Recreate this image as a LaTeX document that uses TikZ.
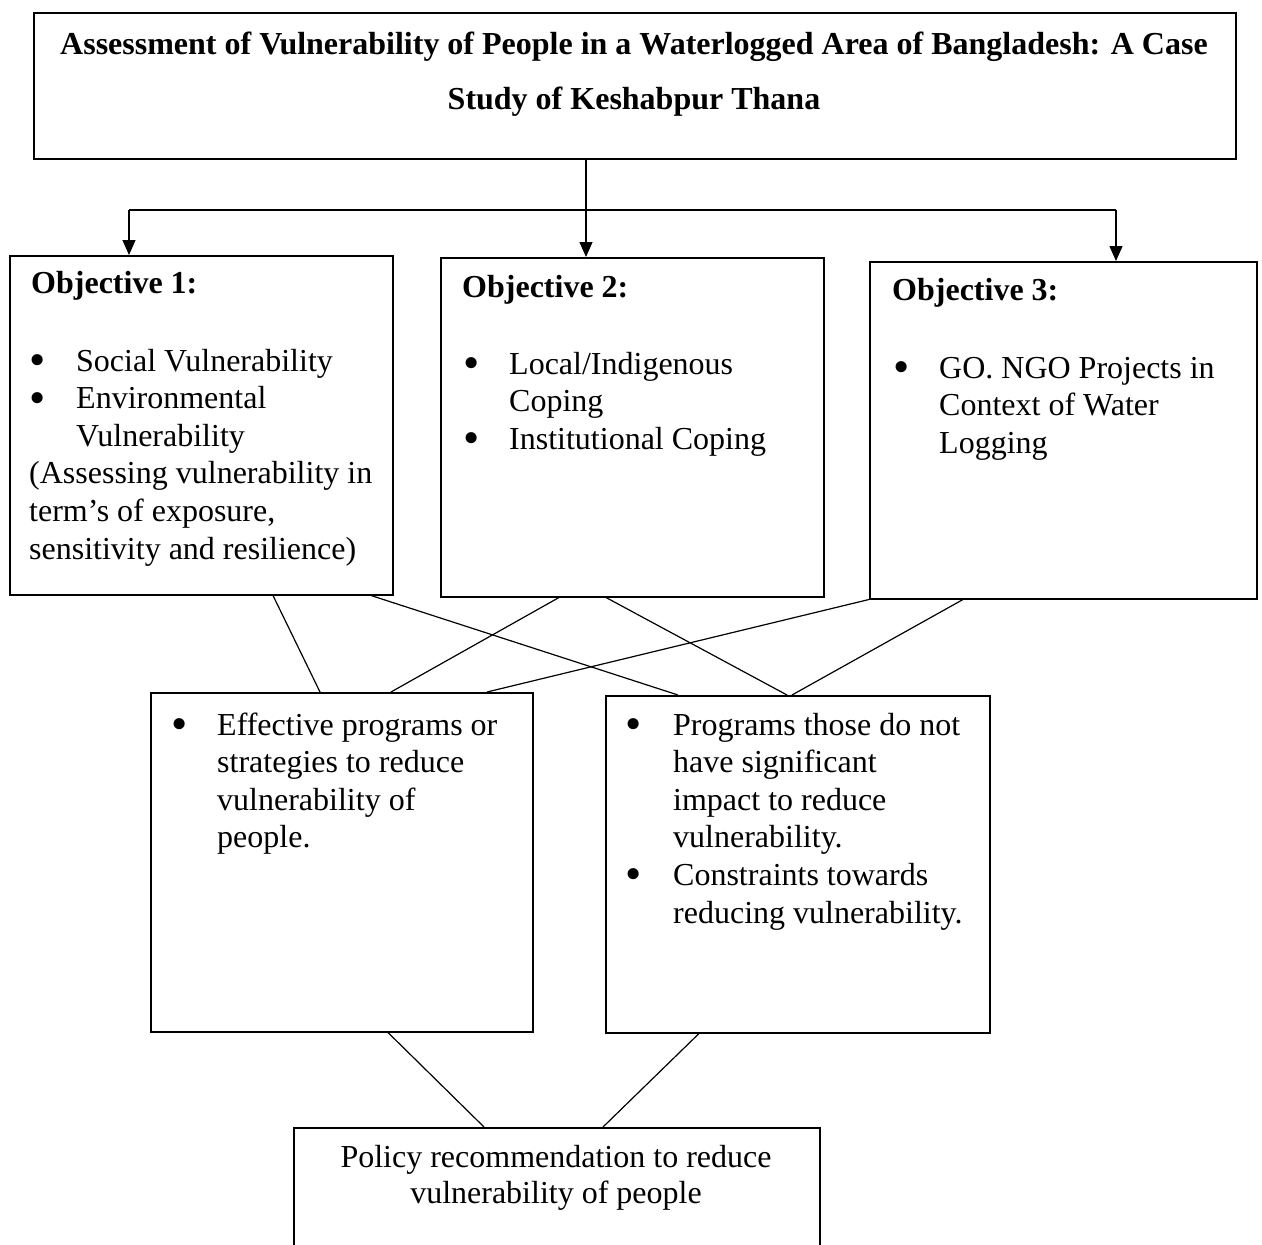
\documentclass[tikz,border=0pt]{standalone}
\usepackage{fontspec}
\setmainfont{Liberation Serif}
\usetikzlibrary{arrows.meta}
\newcommand{\bl}{\smash{\raisebox{-4.5pt}{\scalebox{1.45}{\textbullet}}}}
\tikzset{
  frame/.style={draw, line width=1.5pt, inner sep=0pt, anchor=north west},
  conn/.style={line width=1.2pt},
  arr/.style={line width=1.2pt, -{Triangle[width=13pt,length=15pt]}},
  txt/.style={inner sep=0pt, anchor=base west, font=\fontsize{32}{37.6}\selectfont},
  head/.style={inner sep=0pt, anchor=base west, font=\fontsize{32}{37.6}\selectfont\bfseries},
}
\begin{document}
\begin{tikzpicture}[x=1pt,y=-1pt]
\path[use as bounding box] (0,0) rectangle (1262,1245);
\clip (0,0) rectangle (1262,1245);
\fill[white] (0,0) rectangle (1262,1245);

% title
\node[frame, minimum width=1202pt, minimum height=146pt] (title) at (33,12) {};
\node[inner sep=0pt, anchor=base, font=\fontsize{32}{55}\selectfont\bfseries] (titlet) at (634,54)
  {\begin{tabular}[t]{@{}c@{}}Assessment of Vulnerability of People in a Waterlogged Area of Bangladesh: A Case\\ Study of Keshabpur Thana\end{tabular}};

% objective boxes
\node[frame, minimum width=383pt, minimum height=339pt] (o1) at (9,255) {};
\node[frame, minimum width=383pt, minimum height=339pt] (o2) at (440,257) {};
\node[frame, minimum width=387pt, minimum height=337pt] (o3) at (869,261) {};

\node[head] (o1h) at (31,293) {Objective 1:};
\node[txt] (o1t) at (29,371) {\begin{tabular}[t]{@{}p{47pt}@{}l@{}}
\bl & Social Vulnerability\\
\bl & Environmental\\
    & Vulnerability\\
\multicolumn{2}{@{}l@{}}{(Assessing vulnerability in}\\
\multicolumn{2}{@{}l@{}}{term’s of exposure,}\\
\multicolumn{2}{@{}l@{}}{sensitivity and resilience)}
\end{tabular}};

\node[head] (o2h) at (462,297) {Objective 2:};
\node[txt] (o2t) at (463,374) {\begin{tabular}[t]{@{}p{46pt}@{}l@{}}
\bl & Local/Indigenous\\
    & Coping\\
\bl & Institutional Coping
\end{tabular}};

\node[head] (o3h) at (892,300) {Objective 3:};
\node[txt] (o3t) at (893,378) {\begin{tabular}[t]{@{}p{46pt}@{}l@{}}
\bl & GO. NGO Projects in\\
    & Context of Water\\
    & Logging
\end{tabular}};

% outcome boxes
\node[frame, minimum width=382pt, minimum height=339pt] (ba) at (150,692) {};
\node[frame, minimum width=384pt, minimum height=337pt] (bb) at (605,695) {};

\node[txt] (bat) at (171,735) {\begin{tabular}[t]{@{}p{46pt}@{}l@{}}
\bl & Effective programs or\\
    & strategies to reduce\\
    & vulnerability of\\
    & people.
\end{tabular}};

\node[txt] (bbt) at (625,735) {\begin{tabular}[t]{@{}p{48pt}@{}l@{}}
\bl & Programs those do not\\
    & have significant\\
    & impact to reduce\\
    & vulnerability.\\
\bl & Constraints towards\\
    & reducing vulnerability.
\end{tabular}};

% policy box (cut by the lower edge)
\node[frame, minimum width=526pt, minimum height=200pt] (pol) at (293,1127) {};
\node[inner sep=0pt, anchor=base, font=\fontsize{32}{36}\selectfont] (polt) at (556,1167)
  {\begin{tabular}[t]{@{}c@{}}Policy recommendation to reduce\\ vulnerability of people\end{tabular}};

% top arrows
\coordinate (tm) at ([xshift=553pt]title.south west);
\coordinate (jl) at (129,210);
\coordinate (jr) at (1116,210);
\draw[conn] (jl) -- (jr);
\draw[arr] (tm) -- (tm |- o2.north);
\draw[arr] (jl) -- (jl |- o1.north);
\draw[arr] (jr) -- (jr |- o3.north);

% crossing connectors
\draw[conn] ([xshift=264pt]o1.south west) -- ([xshift=170pt]ba.north west);
\draw[conn] ([xshift=362pt]o1.south west) -- ([xshift=73pt]bb.north west);
\draw[conn] ([xshift=119pt]o2.south west) -- ([xshift=241pt]ba.north west);
\draw[conn] ([xshift=166pt]o2.south west) -- ([xshift=182pt]bb.north west);
\draw[conn] (o3.south west) -- ([xshift=337pt]ba.north west);
\draw[conn] ([xshift=94pt]o3.south west) -- ([xshift=187pt]bb.north west);

% lower connectors
\draw[conn] ([xshift=238pt]ba.south west) -- ([xshift=191pt]pol.north west);
\draw[conn] ([xshift=94pt]bb.south west) -- ([xshift=310pt]pol.north west);
\end{tikzpicture}
\end{document}
